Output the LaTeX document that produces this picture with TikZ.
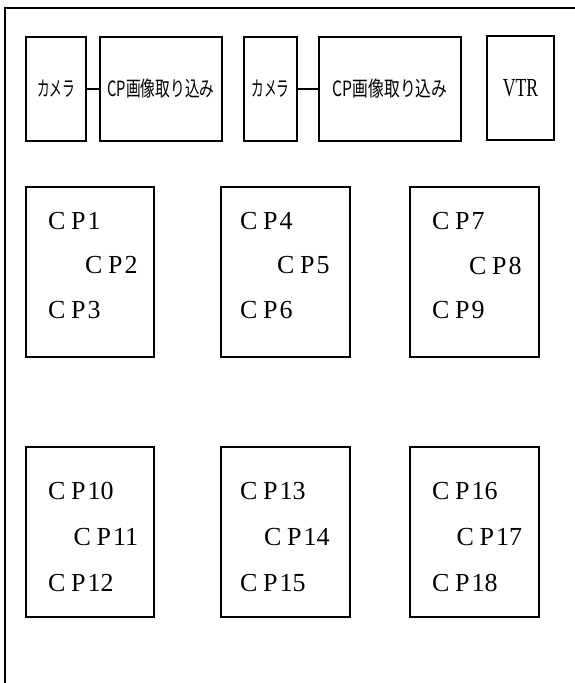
\documentclass[tikz,border=0pt]{standalone}
\usepackage{fontspec}
\usepackage{graphicx}
\setmainfont{Liberation Serif}
\newfontfamily\jpfont{Noto Sans CJK JP}
\newcommand\cplab[1]{\makebox[23pt][l]{C}\makebox[16.5pt][l]{P}#1}
\tikzset{
  frame/.style={line width=2pt},
  box/.style={draw, line width=2pt, inner sep=0pt},
  cplabel/.style={inner sep=0pt, anchor=west, font=\fontsize{26}{26}\selectfont},
  link/.style={line width=2pt}
}
\begin{document}
\begin{tikzpicture}[x=1pt,y=-1pt]
\useasboundingbox (0,0) rectangle (575,683);
\fill[white] (0,0) rectangle (575,683);
% outer frame (cut off at right and bottom)
\coordinate (fbl) at (4.5,683);
\coordinate (ftl) at (4.5,7.5);
\coordinate (ftr) at (575,7.5);
\draw[frame] (fbl) -- (ftl) -- (ftr);
% top row
\node[box, minimum width=60pt, minimum height=104pt] (cam1) at (56,89)
  {\jpfont\fontsize{21}{21}\selectfont\scalebox{0.6}[1]{カメラ}};
\node[box, minimum width=122pt, minimum height=104pt] (cap1) at (161,89)
  {\jpfont\fontsize{21}{21}\selectfont\scalebox{0.70}[1]{CP画像取り込み}};
\node[box, minimum width=53pt, minimum height=104pt] (cam2) at (270.5,89)
  {\jpfont\fontsize{21}{21}\selectfont\scalebox{0.6}[1]{カメラ}};
\node[box, minimum width=142pt, minimum height=104pt] (cap2) at (390,89)
  {\jpfont\fontsize{21}{21}\selectfont\scalebox{0.75}[1]{CP画像取り込み}};
\node[box, minimum width=67pt, minimum height=104pt] (vtr) at (520.5,88)
  {\fontsize{26}{26}\selectfont\scalebox{0.68}[1]{VTR}};
\draw[link] (cam1) -- (cap1);
\draw[link] (cam2) -- (cap2);
% CP boxes row 2
\node[box, minimum width=128pt, minimum height=170pt] (g1) at (90,272) {};
\node[box, minimum width=129pt, minimum height=170pt] (g2) at (285.5,272) {};
\node[box, minimum width=129pt, minimum height=170pt] (g3) at (474.5,272) {};
% CP boxes row 3
\node[box, minimum width=128pt, minimum height=170pt] (g4) at (90,532) {};
\node[box, minimum width=129pt, minimum height=170pt] (g5) at (285.5,532) {};
\node[box, minimum width=129pt, minimum height=170pt] (g6) at (474.5,532) {};
% labels row 2
\node[cplabel] (cp1) at (48,221.5) {\cplab{1}};
\node[cplabel] (cp2) at (85,265.5) {\cplab{2}};
\node[cplabel] (cp3) at (48,310.5) {\cplab{3}};
\node[cplabel] (cp4) at (240,221.5) {\cplab{4}};
\node[cplabel] (cp5) at (277,265.5) {\cplab{5}};
\node[cplabel] (cp6) at (240,310.5) {\cplab{6}};
\node[cplabel] (cp7) at (432,221.5) {\cplab{7}};
\node[cplabel] (cp8) at (469,265.5) {\cplab{8}};
\node[cplabel] (cp9) at (432,310.5) {\cplab{9}};
% labels row 3
\node[cplabel] (cp10) at (48,490.7) {\cplab{10}};
\node[cplabel] (cp11) at (73.5,536.7) {\cplab{11}};
\node[cplabel] (cp12) at (48,582.7) {\cplab{12}};
\node[cplabel] (cp13) at (240,490.7) {\cplab{13}};
\node[cplabel] (cp14) at (264,536.7) {\cplab{14}};
\node[cplabel] (cp15) at (240,582.7) {\cplab{15}};
\node[cplabel] (cp16) at (432,490.7) {\cplab{16}};
\node[cplabel] (cp17) at (456.5,536.7) {\cplab{17}};
\node[cplabel] (cp18) at (432,582.7) {\cplab{18}};
\end{tikzpicture}
\end{document}
